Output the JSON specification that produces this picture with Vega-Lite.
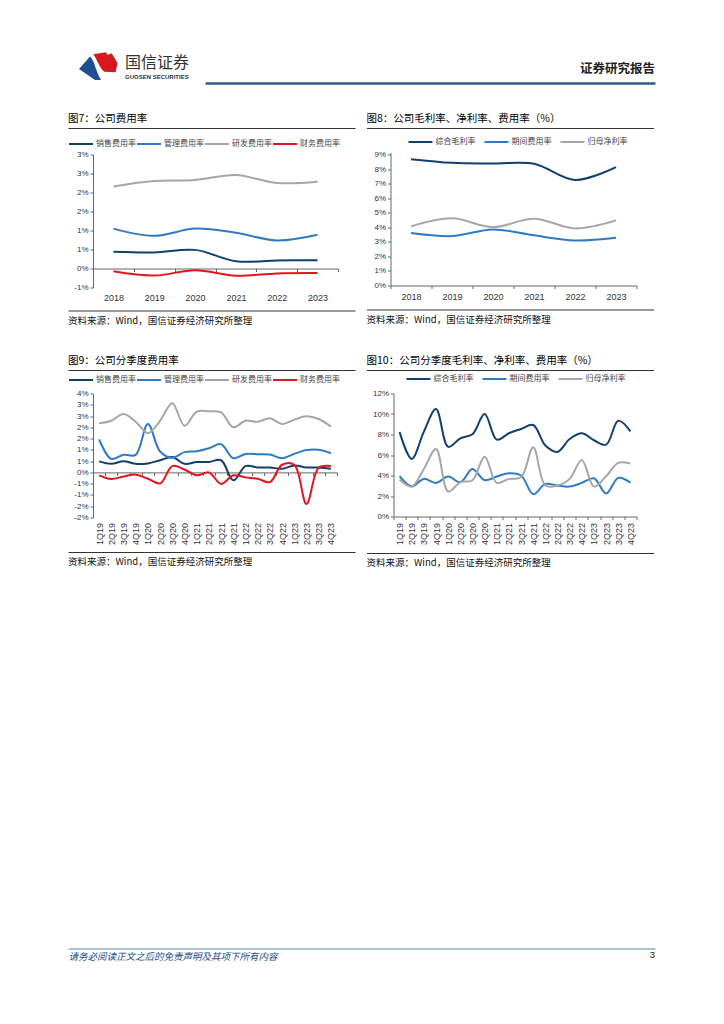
{
  "$schema": "https://vega.github.io/schema/vega-lite/v6.json",
  "padding": {"left": 68, "top": 52, "right": 0, "bottom": 0},
  "background": "white",
  "datasets": {
    "dummy": [{"v": 0}],
    "fig7": [
      {"series": "销售费用率", "period": "2018", "value": 0.44},
      {"series": "销售费用率", "period": "2019", "value": 0.42},
      {"series": "销售费用率", "period": "2020", "value": 0.49},
      {"series": "销售费用率", "period": "2021", "value": 0.19},
      {"series": "销售费用率", "period": "2022", "value": 0.21},
      {"series": "销售费用率", "period": "2023", "value": 0.22},
      {"series": "管理费用率", "period": "2018", "value": 1.05},
      {"series": "管理费用率", "period": "2019", "value": 0.86},
      {"series": "管理费用率", "period": "2020", "value": 1.05},
      {"series": "管理费用率", "period": "2021", "value": 0.94},
      {"series": "管理费用率", "period": "2022", "value": 0.74},
      {"series": "管理费用率", "period": "2023", "value": 0.89},
      {"series": "研发费用率", "period": "2018", "value": 2.16},
      {"series": "研发费用率", "period": "2019", "value": 2.30},
      {"series": "研发费用率", "period": "2020", "value": 2.33},
      {"series": "研发费用率", "period": "2021", "value": 2.46},
      {"series": "研发费用率", "period": "2022", "value": 2.25},
      {"series": "研发费用率", "period": "2023", "value": 2.28},
      {"series": "财务费用率", "period": "2018", "value": -0.07},
      {"series": "财务费用率", "period": "2019", "value": -0.185},
      {"series": "财务费用率", "period": "2020", "value": -0.045},
      {"series": "财务费用率", "period": "2021", "value": -0.19},
      {"series": "财务费用率", "period": "2022", "value": -0.13},
      {"series": "财务费用率", "period": "2023", "value": -0.12}
    ],
    "fig8": [
      {"series": "综合毛利率", "period": "2018", "value": 8.69},
      {"series": "综合毛利率", "period": "2019", "value": 8.44},
      {"series": "综合毛利率", "period": "2020", "value": 8.39},
      {"series": "综合毛利率", "period": "2021", "value": 8.37},
      {"series": "综合毛利率", "period": "2022", "value": 7.26},
      {"series": "综合毛利率", "period": "2023", "value": 8.14},
      {"series": "期间费用率", "period": "2018", "value": 3.61},
      {"series": "期间费用率", "period": "2019", "value": 3.40},
      {"series": "期间费用率", "period": "2020", "value": 3.86},
      {"series": "期间费用率", "period": "2021", "value": 3.45},
      {"series": "期间费用率", "period": "2022", "value": 3.10},
      {"series": "期间费用率", "period": "2023", "value": 3.29},
      {"series": "归母净利率", "period": "2018", "value": 4.07},
      {"series": "归母净利率", "period": "2019", "value": 4.62},
      {"series": "归母净利率", "period": "2020", "value": 4.02},
      {"series": "归母净利率", "period": "2021", "value": 4.60},
      {"series": "归母净利率", "period": "2022", "value": 3.93},
      {"series": "归母净利率", "period": "2023", "value": 4.48}
    ],
    "fig9": [
      {"series": "销售费用率", "period": "1Q19", "value": 0.49},
      {"series": "销售费用率", "period": "2Q19", "value": 0.38},
      {"series": "销售费用率", "period": "3Q19", "value": 0.50},
      {"series": "销售费用率", "period": "4Q19", "value": 0.38},
      {"series": "销售费用率", "period": "1Q20", "value": 0.40},
      {"series": "销售费用率", "period": "2Q20", "value": 0.54},
      {"series": "销售费用率", "period": "3Q20", "value": 0.68},
      {"series": "销售费用率", "period": "4Q20", "value": 0.38},
      {"series": "销售费用率", "period": "1Q21", "value": 0.46},
      {"series": "销售费用率", "period": "2Q21", "value": 0.46},
      {"series": "销售费用率", "period": "3Q21", "value": 0.54},
      {"series": "销售费用率", "period": "4Q21", "value": -0.35},
      {"series": "销售费用率", "period": "1Q22", "value": 0.28},
      {"series": "销售费用率", "period": "2Q22", "value": 0.22},
      {"series": "销售费用率", "period": "3Q22", "value": 0.22},
      {"series": "销售费用率", "period": "4Q22", "value": 0.16},
      {"series": "销售费用率", "period": "1Q23", "value": 0.31},
      {"series": "销售费用率", "period": "2Q23", "value": 0.22},
      {"series": "销售费用率", "period": "3Q23", "value": 0.22},
      {"series": "销售费用率", "period": "4Q23", "value": 0.16},
      {"series": "管理费用率", "period": "1Q19", "value": 1.47},
      {"series": "管理费用率", "period": "2Q19", "value": 0.60},
      {"series": "管理费用率", "period": "3Q19", "value": 0.78},
      {"series": "管理费用率", "period": "4Q19", "value": 0.78},
      {"series": "管理费用率", "period": "1Q20", "value": 2.15},
      {"series": "管理费用率", "period": "2Q20", "value": 0.93},
      {"series": "管理费用率", "period": "3Q20", "value": 0.65},
      {"series": "管理费用率", "period": "4Q20", "value": 0.90},
      {"series": "管理费用率", "period": "1Q21", "value": 0.94},
      {"series": "管理费用率", "period": "2Q21", "value": 1.07},
      {"series": "管理费用率", "period": "3Q21", "value": 1.25},
      {"series": "管理费用率", "period": "4Q21", "value": 0.63},
      {"series": "管理费用率", "period": "1Q22", "value": 0.82},
      {"series": "管理费用率", "period": "2Q22", "value": 0.81},
      {"series": "管理费用率", "period": "3Q22", "value": 0.79},
      {"series": "管理费用率", "period": "4Q22", "value": 0.63},
      {"series": "管理费用率", "period": "1Q23", "value": 0.82},
      {"series": "管理费用率", "period": "2Q23", "value": 0.99},
      {"series": "管理费用率", "period": "3Q23", "value": 1.00},
      {"series": "管理费用率", "period": "4Q23", "value": 0.85},
      {"series": "研发费用率", "period": "1Q19", "value": 2.18},
      {"series": "研发费用率", "period": "2Q19", "value": 2.29},
      {"series": "研发费用率", "period": "3Q19", "value": 2.59},
      {"series": "研发费用率", "period": "4Q19", "value": 2.25},
      {"series": "研发费用率", "period": "1Q20", "value": 1.74},
      {"series": "研发费用率", "period": "2Q20", "value": 2.29},
      {"series": "研发费用率", "period": "3Q20", "value": 3.07},
      {"series": "研发费用率", "period": "4Q20", "value": 2.07},
      {"series": "研发费用率", "period": "1Q21", "value": 2.69},
      {"series": "研发费用率", "period": "2Q21", "value": 2.71},
      {"series": "研发费用率", "period": "3Q21", "value": 2.66},
      {"series": "研发费用率", "period": "4Q21", "value": 2.00},
      {"series": "研发费用率", "period": "1Q22", "value": 2.29},
      {"series": "研发费用率", "period": "2Q22", "value": 2.25},
      {"series": "研发费用率", "period": "3Q22", "value": 2.40},
      {"series": "研发费用率", "period": "4Q22", "value": 2.15},
      {"series": "研发费用率", "period": "1Q23", "value": 2.34},
      {"series": "研发费用率", "period": "2Q23", "value": 2.49},
      {"series": "研发费用率", "period": "3Q23", "value": 2.37},
      {"series": "研发费用率", "period": "4Q23", "value": 2.03},
      {"series": "财务费用率", "period": "1Q19", "value": -0.13},
      {"series": "财务费用率", "period": "2Q19", "value": -0.29},
      {"series": "财务费用率", "period": "3Q19", "value": -0.18},
      {"series": "财务费用率", "period": "4Q19", "value": -0.10},
      {"series": "财务费用率", "period": "1Q20", "value": -0.28},
      {"series": "财务费用率", "period": "2Q20", "value": -0.49},
      {"series": "财务费用率", "period": "3Q20", "value": 0.28},
      {"series": "财务费用率", "period": "4Q20", "value": 0.13},
      {"series": "财务费用率", "period": "1Q21", "value": -0.13},
      {"series": "财务费用率", "period": "2Q21", "value": 0.00},
      {"series": "财务费用率", "period": "3Q21", "value": -0.51},
      {"series": "财务费用率", "period": "4Q21", "value": -0.13},
      {"series": "财务费用率", "period": "1Q22", "value": -0.22},
      {"series": "财务费用率", "period": "2Q22", "value": -0.28},
      {"series": "财务费用率", "period": "3Q22", "value": -0.43},
      {"series": "财务费用率", "period": "4Q22", "value": 0.34},
      {"series": "财务费用率", "period": "1Q23", "value": 0.34},
      {"series": "财务费用率", "period": "2Q23", "value": -1.40},
      {"series": "财务费用率", "period": "3Q23", "value": 0.21},
      {"series": "财务费用率", "period": "4Q23", "value": 0.28}
    ],
    "fig10": [
      {"series": "综合毛利率", "period": "1Q19", "value": 8.25},
      {"series": "综合毛利率", "period": "2Q19", "value": 5.62},
      {"series": "综合毛利率", "period": "3Q19", "value": 8.28},
      {"series": "综合毛利率", "period": "4Q19", "value": 10.49},
      {"series": "综合毛利率", "period": "1Q20", "value": 6.79},
      {"series": "综合毛利率", "period": "2Q20", "value": 7.63},
      {"series": "综合毛利率", "period": "3Q20", "value": 8.02},
      {"series": "综合毛利率", "period": "4Q20", "value": 10.0},
      {"series": "综合毛利率", "period": "1Q21", "value": 7.5},
      {"series": "综合毛利率", "period": "2Q21", "value": 8.12},
      {"series": "综合毛利率", "period": "3Q21", "value": 8.54},
      {"series": "综合毛利率", "period": "4Q21", "value": 8.93},
      {"series": "综合毛利率", "period": "1Q22", "value": 6.92},
      {"series": "综合毛利率", "period": "2Q22", "value": 6.30},
      {"series": "综合毛利率", "period": "3Q22", "value": 7.56},
      {"series": "综合毛利率", "period": "4Q22", "value": 8.12},
      {"series": "综合毛利率", "period": "1Q23", "value": 7.44},
      {"series": "综合毛利率", "period": "2Q23", "value": 7.01},
      {"series": "综合毛利率", "period": "3Q23", "value": 9.35},
      {"series": "综合毛利率", "period": "4Q23", "value": 8.31},
      {"series": "期间费用率", "period": "1Q19", "value": 3.93},
      {"series": "期间费用率", "period": "2Q19", "value": 2.95},
      {"series": "期间费用率", "period": "3Q19", "value": 3.67},
      {"series": "期间费用率", "period": "4Q19", "value": 3.28},
      {"series": "期间费用率", "period": "1Q20", "value": 3.90},
      {"series": "期间费用率", "period": "2Q20", "value": 3.34},
      {"series": "期间费用率", "period": "3Q20", "value": 4.64},
      {"series": "期间费用率", "period": "4Q20", "value": 3.54},
      {"series": "期间费用率", "period": "1Q21", "value": 3.90},
      {"series": "期间费用率", "period": "2Q21", "value": 4.22},
      {"series": "期间费用率", "period": "3Q21", "value": 4.00},
      {"series": "期间费用率", "period": "4Q21", "value": 2.18},
      {"series": "期间费用率", "period": "1Q22", "value": 3.18},
      {"series": "期间费用率", "period": "2Q22", "value": 3.02},
      {"series": "期间费用率", "period": "3Q22", "value": 2.92},
      {"series": "期间费用率", "period": "4Q22", "value": 3.28},
      {"series": "期间费用率", "period": "1Q23", "value": 3.73},
      {"series": "期间费用率", "period": "2Q23", "value": 2.24},
      {"series": "期间费用率", "period": "3Q23", "value": 3.77},
      {"series": "期间费用率", "period": "4Q23", "value": 3.31},
      {"series": "归母净利率", "period": "1Q19", "value": 3.60},
      {"series": "归母净利率", "period": "2Q19", "value": 2.92},
      {"series": "归母净利率", "period": "3Q19", "value": 4.64},
      {"series": "归母净利率", "period": "4Q19", "value": 6.59},
      {"series": "归母净利率", "period": "1Q20", "value": 2.44},
      {"series": "归母净利率", "period": "2Q20", "value": 3.34},
      {"series": "归母净利率", "period": "3Q20", "value": 3.54},
      {"series": "归母净利率", "period": "4Q20", "value": 5.84},
      {"series": "归母净利率", "period": "1Q21", "value": 3.28},
      {"series": "归母净利率", "period": "2Q21", "value": 3.67},
      {"series": "归母净利率", "period": "3Q21", "value": 3.83},
      {"series": "归母净利率", "period": "4Q21", "value": 6.75},
      {"series": "归母净利率", "period": "1Q22", "value": 3.02},
      {"series": "归母净利率", "period": "2Q22", "value": 3.02},
      {"series": "归母净利率", "period": "3Q22", "value": 3.67},
      {"series": "归母净利率", "period": "4Q22", "value": 5.52},
      {"series": "归母净利率", "period": "1Q23", "value": 2.92},
      {"series": "归母净利率", "period": "2Q23", "value": 3.93},
      {"series": "归母净利率", "period": "3Q23", "value": 5.23},
      {"series": "归母净利率", "period": "4Q23", "value": 5.16}
    ]
  },
  "vconcat": [
    {
      "hconcat": [
        {
          "width": 32, "height": 28,
          "data": {"name": "dummy"},
          "layer": [
            {"mark": {"type": "point", "shape": "M-3,0.3L-1.9,-0.95C-1.45,-0.6,-1.35,0.5,-0.8,1.4L-1.4,1.4Z", "size": 400, "filled": true, "color": "#1d4f91", "opacity": 1, "strokeWidth": 0}},
            {"mark": {"type": "point", "shape": "M-1.57,-1.17L-0.33,-1.37L-0.13,-1.1L0.27,-1.27L0.85,-0.3L0.67,0.63L-0.47,0.57C-0.95,0.2,-1.25,-0.8,-1.57,-1.17Z", "size": 400, "filled": true, "color": "#d7191f", "opacity": 1, "strokeWidth": 0}}
          ]
        },
        {
          "width": 80, "height": 28,
          "data": {"name": "dummy"},
          "title": {"text": "国信证券", "subtitle": "GUOSEN SECURITIES", "anchor": "start", "frame": "group", "orient": "top", "offset": -28, "fontSize": 16, "font": "Noto Sans CJK SC", "fontWeight": "normal", "color": "#333333", "subtitleFont": "Liberation Sans", "subtitleFontSize": 6, "subtitleFontWeight": "bold", "subtitleColor": "#333333", "subtitlePadding": 3},
          "mark": {"type": "rule", "opacity": 0},
          "encoding": {"x": {"field": "v", "type": "quantitative", "scale": {"domain": [0, 1]}, "axis": null}}
        },
        {
          "width": 450, "height": 31,
          "data": {"name": "dummy"},
          "title": {"text": "证券研究报告", "anchor": "end", "frame": "group", "orient": "top", "offset": -23, "fontSize": 12.5, "font": "Noto Sans CJK SC", "fontWeight": "bold", "color": "#222222"},
          "mark": {"type": "rule", "opacity": 0},
          "encoding": {"x": {"field": "v", "type": "quantitative", "scale": {"domain": [0, 1]}, "axis": {"orient": "bottom", "domain": true, "domainColor": "#2b5d93", "domainWidth": 2.5, "ticks": false, "labels": false, "title": null, "grid": false}}}
        }
      ],
      "spacing": 0
    },
    {
      "hconcat": [
        {
          "vconcat": [
            {
              "width": 245, "height": 1,
              "data": {"name": "dummy"},
              "title": {"text": "图7：公司费用率", "anchor": "start", "orient": "top", "offset": 4, "fontSize": 10.5, "font": "Noto Sans CJK SC", "fontWeight": "normal", "color": "#000000"},
              "mark": {"type": "rule", "opacity": 0},
              "encoding": {"x": {"field": "v", "type": "quantitative", "scale": {"domain": [0, 1], "range": [-25, 262]}, "axis": {"orient": "top", "domain": true, "domainColor": "#333333", "domainWidth": 1, "ticks": false, "labels": false, "title": null, "grid": false}}}
            },
            {
              "vconcat": [
                {
                  "width": 245, "height": 133,
                  "data": {"name": "fig7"},
                  "mark": {"type": "line", "interpolate": "catmull-rom", "strokeWidth": 2},
                  "encoding": {
                    "x": {"field": "period", "type": "ordinal", "sort": null, "scale": {"type": "band", "paddingInner": 0, "paddingOuter": 0}, "axis": {"title": null, "labelAngle": 0, "offset": -19, "tickBand": "extent", "tickSize": 3, "labelPadding": 22, "labelFontSize": 9}},
                    "y": {"field": "value", "type": "quantitative", "scale": {"domain": [-0.5, 3.0], "nice": false, "zero": false}, "axis": {"title": null, "values": [-0.5, 0, 0.5, 1, 1.5, 2, 2.5, 3], "labelExpr": "replace(format(datum.value, '.0f'), '−', '-') + '%'", "tickSize": 3, "labelPadding": 2, "labelFontSize": 8}},
                    "color": {"field": "series", "type": "nominal", "scale": {"domain": ["销售费用率", "管理费用率", "研发费用率", "财务费用率"], "range": ["#123f6e", "#2e7bc4", "#a6a6a6", "#e3141c"]}, "legend": {"orient": "none", "legendX": -25, "legendY": 3, "direction": "horizontal", "columns": 4, "columnPadding": -4, "title": null, "symbolType": "stroke", "symbolSize": 576, "symbolStrokeWidth": 2, "labelOffset": 2, "labelFontSize": 8}},
                    "order": {"value": null}
                  }
                },
                {
                  "width": 245, "height": 1,
                  "data": {"name": "dummy"},
                  "title": {"text": "资料来源：Wind，国信证券经济研究所整理", "anchor": "start", "orient": "bottom", "offset": 4, "fontSize": 9.5, "font": "Noto Sans CJK SC", "fontWeight": "normal", "color": "#111111"},
                  "mark": {"type": "rule", "opacity": 0},
                  "encoding": {"x": {"field": "v", "type": "quantitative", "scale": {"domain": [0, 1], "range": [-25, 262]}, "axis": {"orient": "top", "domain": true, "domainColor": "#333333", "domainWidth": 1, "ticks": false, "labels": false, "title": null, "grid": false}}}
                }
              ],
              "spacing": 8
            }
          ],
          "spacing": 21.5
        },
        {
          "vconcat": [
            {
              "width": 246, "height": 1,
              "data": {"name": "dummy"},
              "title": {"text": "图8：公司毛利率、净利率、费用率（%）", "anchor": "start", "orient": "top", "offset": 4, "fontSize": 10.5, "font": "Noto Sans CJK SC", "fontWeight": "normal", "color": "#000000"},
              "mark": {"type": "rule", "opacity": 0},
              "encoding": {"x": {"field": "v", "type": "quantitative", "scale": {"domain": [0, 1], "range": [-24, 263]}, "axis": {"orient": "top", "domain": true, "domainColor": "#333333", "domainWidth": 1, "ticks": false, "labels": false, "title": null, "grid": false}}}
            },
            {
              "vconcat": [
                {
                  "width": 246, "height": 133,
                  "data": {"name": "fig8"},
                  "mark": {"type": "line", "interpolate": "catmull-rom", "strokeWidth": 2},
                  "encoding": {
                    "x": {"field": "period", "type": "ordinal", "sort": null, "scale": {"type": "band", "paddingInner": 0, "paddingOuter": 0}, "axis": {"title": null, "labelAngle": 0, "tickBand": "extent", "tickSize": 3, "labelPadding": 4, "labelFontSize": 9}},
                    "y": {"field": "value", "type": "quantitative", "scale": {"domain": [0, 9.15], "nice": false}, "axis": {"title": null, "values": [0, 1, 2, 3, 4, 5, 6, 7, 8, 9], "labelExpr": "datum.value + '%'", "tickSize": 3, "labelPadding": 2, "labelFontSize": 8}},
                    "color": {"field": "series", "type": "nominal", "scale": {"domain": ["综合毛利率", "期间费用率", "归母净利率"], "range": ["#123f6e", "#2e7bc4", "#a6a6a6"]}, "legend": {"orient": "none", "legendX": 17, "legendY": 1, "direction": "horizontal", "columns": 3, "columnPadding": 5, "title": null, "symbolType": "stroke", "symbolSize": 576, "symbolStrokeWidth": 2, "labelOffset": 2, "labelFontSize": 8}},
                    "order": {"value": null}
                  }
                },
                {
                  "width": 246, "height": 1,
                  "data": {"name": "dummy"},
                  "title": {"text": "资料来源：Wind，国信证券经济研究所整理", "anchor": "start", "orient": "bottom", "offset": 4, "fontSize": 9.5, "font": "Noto Sans CJK SC", "fontWeight": "normal", "color": "#111111"},
                  "mark": {"type": "rule", "opacity": 0},
                  "encoding": {"x": {"field": "v", "type": "quantitative", "scale": {"domain": [0, 1], "range": [-24, 263]}, "axis": {"orient": "top", "domain": true, "domainColor": "#333333", "domainWidth": 1, "ticks": false, "labels": false, "title": null, "grid": false}}}
                }
              ],
              "spacing": 8
            }
          ],
          "spacing": 21.5
        }
      ],
      "spacing": -13.5,
      "resolve": {"scale": {"color": "independent"}}
    },
    {
      "hconcat": [
        {
          "vconcat": [
            {
              "width": 244, "height": 1,
              "data": {"name": "dummy"},
              "title": {"text": "图9：公司分季度费用率", "anchor": "start", "orient": "top", "offset": 4, "fontSize": 10.5, "font": "Noto Sans CJK SC", "fontWeight": "normal", "color": "#000000"},
              "mark": {"type": "rule", "opacity": 0},
              "encoding": {"x": {"field": "v", "type": "quantitative", "scale": {"domain": [0, 1], "range": [-25, 262]}, "axis": {"orient": "top", "domain": true, "domainColor": "#333333", "domainWidth": 1, "ticks": false, "labels": false, "title": null, "grid": false}}}
            },
            {
              "vconcat": [
                {
                  "width": 244, "height": 124,
                  "data": {"name": "fig9"},
                  "mark": {"type": "line", "interpolate": "catmull-rom", "strokeWidth": 2},
                  "encoding": {
                    "x": {"field": "period", "type": "ordinal", "sort": null, "scale": {"type": "band", "paddingInner": 0, "paddingOuter": 0}, "axis": {"title": null, "labelAngle": -90, "offset": -45.1, "tickBand": "extent", "tickSize": 3, "labelPadding": 47, "labelFontSize": 9}},
                    "y": {"field": "value", "type": "quantitative", "scale": {"domain": [-2, 3.5], "nice": false, "zero": false}, "axis": {"title": null, "values": [-2, -1.5, -1, -0.5, 0, 0.5, 1, 1.5, 2, 2.5, 3, 3.5], "labelExpr": "replace(format(datum.value, '.0f'), '−', '-') + '%'", "tickSize": 3, "labelPadding": 2, "labelFontSize": 8}},
                    "color": {"field": "series", "type": "nominal", "scale": {"domain": ["销售费用率", "管理费用率", "研发费用率", "财务费用率"], "range": ["#123f6e", "#2e7bc4", "#a6a6a6", "#e3141c"]}, "legend": {"orient": "none", "legendX": -25, "legendY": -3, "direction": "horizontal", "columns": 4, "columnPadding": -4, "title": null, "symbolType": "stroke", "symbolSize": 576, "symbolStrokeWidth": 2, "labelOffset": 2, "labelFontSize": 8}},
                    "order": {"value": null}
                  }
                },
                {
                  "width": 244, "height": 1,
                  "data": {"name": "dummy"},
                  "title": {"text": "资料来源：Wind，国信证券经济研究所整理", "anchor": "start", "orient": "bottom", "offset": 4, "fontSize": 9.5, "font": "Noto Sans CJK SC", "fontWeight": "normal", "color": "#111111"},
                  "mark": {"type": "rule", "opacity": 0},
                  "encoding": {"x": {"field": "v", "type": "quantitative", "scale": {"domain": [0, 1], "range": [-25, 262]}, "axis": {"orient": "top", "domain": true, "domainColor": "#333333", "domainWidth": 1, "ticks": false, "labels": false, "title": null, "grid": false}}}
                }
              ],
              "spacing": 7.5
            }
          ],
          "spacing": 18.5
        },
        {
          "vconcat": [
            {
              "width": 243, "height": 1,
              "data": {"name": "dummy"},
              "title": {"text": "图10：公司分季度毛利率、净利率、费用率（%）", "anchor": "start", "orient": "top", "offset": 4, "fontSize": 10.5, "font": "Noto Sans CJK SC", "fontWeight": "normal", "color": "#000000"},
              "mark": {"type": "rule", "opacity": 0},
              "encoding": {"x": {"field": "v", "type": "quantitative", "scale": {"domain": [0, 1], "range": [-27, 260]}, "axis": {"orient": "top", "domain": true, "domainColor": "#333333", "domainWidth": 1, "ticks": false, "labels": false, "title": null, "grid": false}}}
            },
            {
              "vconcat": [
                {
                  "width": 243, "height": 123,
                  "data": {"name": "fig10"},
                  "mark": {"type": "line", "interpolate": "catmull-rom", "strokeWidth": 2},
                  "encoding": {
                    "x": {"field": "period", "type": "ordinal", "sort": null, "scale": {"type": "band", "paddingInner": 0, "paddingOuter": 0}, "axis": {"title": null, "labelAngle": -90, "tickBand": "extent", "tickSize": 3, "labelPadding": 3, "labelFontSize": 9}},
                    "y": {"field": "value", "type": "quantitative", "scale": {"domain": [0, 12], "nice": false}, "axis": {"title": null, "values": [0, 2, 4, 6, 8, 10, 12], "labelExpr": "datum.value + '%'", "tickSize": 3, "labelPadding": 2, "labelFontSize": 8}},
                    "color": {"field": "series", "type": "nominal", "scale": {"domain": ["综合毛利率", "期间费用率", "归母净利率"], "range": ["#123f6e", "#2e7bc4", "#a6a6a6"]}, "legend": {"orient": "none", "legendX": 12, "legendY": -4, "direction": "horizontal", "columns": 3, "columnPadding": 5, "title": null, "symbolType": "stroke", "symbolSize": 576, "symbolStrokeWidth": 2, "labelOffset": 2, "labelFontSize": 8}},
                    "order": {"value": null}
                  }
                },
                {
                  "width": 243, "height": 1,
                  "data": {"name": "dummy"},
                  "title": {"text": "资料来源：Wind，国信证券经济研究所整理", "anchor": "start", "orient": "bottom", "offset": 4, "fontSize": 9.5, "font": "Noto Sans CJK SC", "fontWeight": "normal", "color": "#111111"},
                  "mark": {"type": "rule", "opacity": 0},
                  "encoding": {"x": {"field": "v", "type": "quantitative", "scale": {"domain": [0, 1], "range": [-27, 260]}, "axis": {"orient": "top", "domain": true, "domainColor": "#333333", "domainWidth": 1, "ticks": false, "labels": false, "title": null, "grid": false}}}
                }
              ],
              "spacing": 7.5
            }
          ],
          "spacing": 18.5
        }
      ],
      "spacing": -13.5,
      "resolve": {"scale": {"color": "independent"}}
    },
    {
      "width": 562, "height": 350.5,
      "data": {"name": "dummy"},
      "title": {"text": "3", "anchor": "end", "frame": "group", "orient": "bottom", "offset": -11, "fontSize": 9.5, "font": "Liberation Sans", "fontWeight": "normal", "color": "#222222"},
      "mark": {"type": "rule", "opacity": 0},
      "encoding": {"x": {"field": "v", "type": "quantitative", "scale": {"domain": [0, 1], "range": [-25, 562]}, "axis": {"orient": "bottom", "minExtent": 0, "domain": true, "domainColor": "#5a80ad", "domainWidth": 1, "ticks": false, "labels": false, "grid": false, "title": "请务必阅读正文之后的免责声明及其项下所有内容", "titleAnchor": "start", "titleAlign": "left", "titlePadding": 3, "titleLimit": 400, "titleFont": "Noto Sans CJK SC", "titleFontSize": 9.5, "titleFontStyle": "italic", "titleFontWeight": "normal", "titleColor": "#1f4e8c"}}}
    }
  ],
  "spacing": 30,
  "resolve": {"scale": {"color": "independent"}},
  "config": {
    "view": {"stroke": null},
    "font": "Liberation Sans",
    "axis": {"domainColor": "#666666", "tickColor": "#666666", "labelColor": "#333333", "labelFont": "Liberation Sans", "grid": false},
    "legend": {"labelFont": "Noto Sans CJK SC", "labelColor": "#444444", "padding": 0}
  }
}
